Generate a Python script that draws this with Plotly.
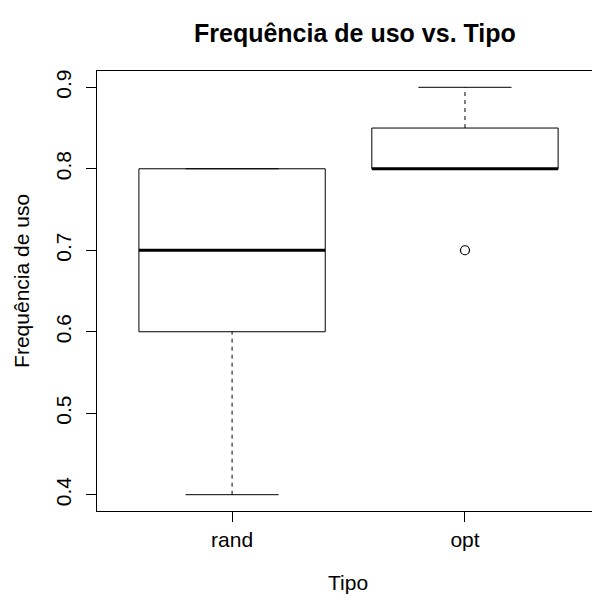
import plotly.graph_objects as go

# Summary statistics per group (R-style boxplot)
categories = ["rand", "opt"]
positions = [1, 2]
lower_whisker = [0.4, 0.8]
q1 = [0.6, 0.8]
median = [0.7, 0.8]
q3 = [0.8, 0.85]
upper_whisker = [0.8, 0.9]
outlier_pos = [2]
outlier_val = [0.7]

y_ticks = [0.4, 0.5, 0.6, 0.7, 0.8, 0.9]

FONT = "Liberation Sans, Arial, sans-serif"
half_box = 0.4
half_staple = 0.2

fig = go.Figure()

line_style = dict(color="black", width=1)
for i, c in enumerate(positions):
    # box outline
    fig.add_trace(go.Scatter(
        x=[c - half_box, c + half_box, c + half_box, c - half_box, c - half_box],
        y=[q1[i], q1[i], q3[i], q3[i], q1[i]],
        mode="lines", line=line_style, hoverinfo="skip"))
    # dashed whiskers
    fig.add_trace(go.Scatter(
        x=[c, c, None, c, c],
        y=[lower_whisker[i], q1[i], None, q3[i], upper_whisker[i]],
        mode="lines", line=dict(color="black", width=1, dash="4px,4px"),
        hoverinfo="skip"))
    # staples
    fig.add_trace(go.Scatter(
        x=[c - half_staple, c + half_staple, None, c - half_staple, c + half_staple],
        y=[lower_whisker[i], lower_whisker[i], None, upper_whisker[i], upper_whisker[i]],
        mode="lines", line=line_style, hoverinfo="skip"))
    # median
    fig.add_trace(go.Scatter(
        x=[c - half_box, c + half_box], y=[median[i], median[i]],
        mode="lines", line=dict(color="black", width=3), hoverinfo="skip"))

# outliers
fig.add_trace(go.Scatter(
    x=outlier_pos, y=outlier_val, mode="markers",
    marker=dict(symbol="circle-open", size=9, color="black", line=dict(width=1.2)),
    hoverinfo="skip"))

fig.update_layout(
    width=592, height=596,
    margin=dict(l=97, r=0, t=71, b=85),
    paper_bgcolor="white", plot_bgcolor="white",
    showlegend=False,
    font=dict(family=FONT, size=21, color="black"),
    xaxis=dict(
        range=[0.42, 0.42 + 495 / 232.9],
        tickvals=positions, ticktext=categories,
        ticks="outside", ticklen=10, tickwidth=1, tickcolor="black",
        showline=True, linecolor="black", linewidth=1, mirror=True,
        showgrid=False, zeroline=False,
        tickfont=dict(size=21),
    ),
    yaxis=dict(
        range=[0.38, 0.92],
        tickvals=y_ticks, ticktext=[f"{v:.1f}" for v in y_ticks],
        tickangle=-90,
        ticks="outside", ticklen=10, tickwidth=1, tickcolor="black",
        ticklabelstandoff=7,
        showline=True, linecolor="black", linewidth=1, mirror=False,
        showgrid=False, zeroline=False,
        tickfont=dict(size=21),
    ),
    annotations=[
        dict(text="<b>Frequência de uso vs. Tipo</b>", xref="paper", yref="paper",
             x=0.521, y=1.0864, xanchor="center", yanchor="middle",
             showarrow=False, font=dict(size=25)),
        dict(text="Tipo", xref="paper", yref="paper",
             x=0.508, y=-0.1636, xanchor="center", yanchor="middle",
             showarrow=False, font=dict(size=21)),
        dict(text="Frequência de uso", xref="paper", yref="paper",
             x=-0.1515, y=0.523, xanchor="center", yanchor="middle", textangle=-90,
             showarrow=False, font=dict(size=21)),
    ],
)

fig.write_html("out.html")
